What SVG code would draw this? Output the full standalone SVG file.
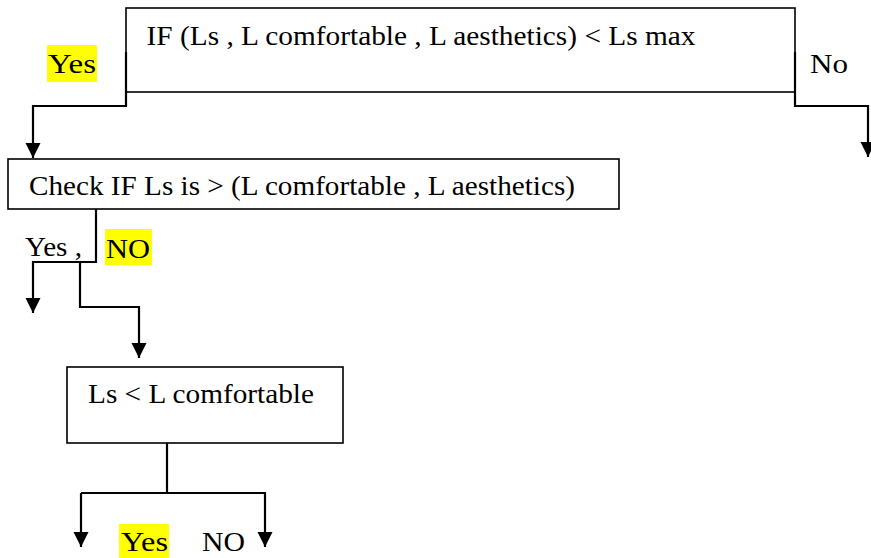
<svg xmlns="http://www.w3.org/2000/svg" width="871" height="558" viewBox="0 0 871 558">
<style>
.box{fill:#fff;stroke:#000;stroke-width:1.6}
.t{font-family:'Liberation Serif','Times New Roman',Times,serif;font-size:28px;fill:#000}
.hl{fill:#ffff00}
.c{fill:none;stroke:#000;stroke-width:2.2}
</style>
<defs>
<marker id="ah" markerUnits="userSpaceOnUse" markerWidth="16" markerHeight="16" viewBox="0 -8 16 16" refX="15" refY="0" orient="auto">
<path d="M0,-7.5 L15,0 L0,7.5 z" fill="#000"/>
</marker>
</defs>
<rect width="871" height="558" fill="#fff"/>
<g id="n1">
<rect class="box" x="126" y="8" width="669" height="84"/>
<text class="t" x="146.5" y="45" textLength="549" lengthAdjust="spacingAndGlyphs">IF (Ls , L comfortable , L aesthetics) &lt; Ls max</text>
</g>
<g id="n2">
<rect class="box" x="8" y="159" width="611" height="50"/>
<text class="t" x="29" y="195" textLength="546" lengthAdjust="spacingAndGlyphs">Check IF Ls is &gt; (L comfortable , L aesthetics)</text>
</g>
<g id="n3">
<rect class="box" x="67" y="367" width="276" height="76"/>
<text class="t" x="88" y="403" textLength="226" lengthAdjust="spacingAndGlyphs">Ls &lt; L comfortable</text>
</g>
<g id="connectors">
<path class="c" d="M126,52 V106 H33 V158" marker-end="url(#ah)"/>
<path class="c" d="M795,52 V106 H868 V157" marker-end="url(#ah)"/>
<path class="c" d="M96,209 V262 H33 V313" marker-end="url(#ah)"/>
<path class="c" d="M80,262 V307 H139 V358" marker-end="url(#ah)"/>
<path class="c" d="M167,443 V493"/>
<path class="c" d="M81,493 H265 V547" marker-end="url(#ah)"/>
<path class="c" d="M81,493 V547" marker-end="url(#ah)"/>
</g>
<g id="labels">
<rect class="hl" x="47" y="45" width="50" height="37"/>
<text class="t" x="48" y="73" textLength="48" lengthAdjust="spacingAndGlyphs">Yes</text>
<text class="t" x="810" y="73" textLength="38" lengthAdjust="spacingAndGlyphs">No</text>
<text class="t" x="25" y="256" textLength="57" lengthAdjust="spacingAndGlyphs">Yes ,</text>
<rect class="hl" x="105" y="229" width="47" height="36"/>
<text class="t" x="106" y="258" textLength="44" lengthAdjust="spacingAndGlyphs">NO</text>
<rect class="hl" x="119" y="524" width="50" height="34"/>
<text class="t" x="121" y="551" textLength="47" lengthAdjust="spacingAndGlyphs">Yes</text>
<text class="t" x="202" y="551" textLength="43" lengthAdjust="spacingAndGlyphs">NO</text>
</g>
</svg>
